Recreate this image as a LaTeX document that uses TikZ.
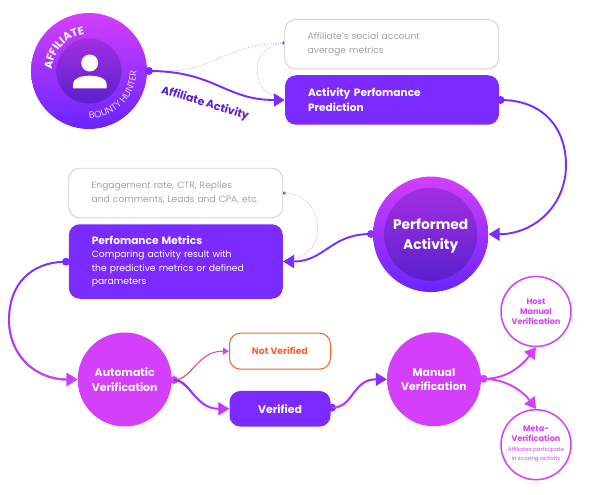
\documentclass[tikz,border=0pt]{standalone}
\usepackage{fontspec}
\setmainfont{Poppins}
\usetikzlibrary{arrows.meta,decorations.text,fadings,shapes.geometric}
\definecolor{vio}{HTML}{7B2BFF}
\definecolor{pnk}{HTML}{D33FFB}
\definecolor{org}{HTML}{F9622C}
\definecolor{gry}{HTML}{A3A3A3}
\definecolor{edg}{HTML}{D2D2D2}
\definecolor{dotc}{HTML}{CDAEFF}
\definecolor{lab}{HTML}{5C20D8}
\definecolor{intop}{HTML}{A22FE2}
\definecolor{inbot}{HTML}{5A20CC}
\tikzset{
  boxbase/.style={rectangle,rounded corners=11pt,inner ysep=0pt,align=left},
  greybox/.style={boxbase,draw=edg,line width=0.9pt,fill=white,text=gry,minimum width=214pt,text width=168pt,inner xsep=23pt,minimum height=49.5pt,font=\fontsize{9.15}{14}\selectfont},
  fullbox/.style={boxbase,fill=vio,text=white,minimum width=214pt,text width=168pt,inner xsep=23pt,font=\fontsize{10.6}{15}\selectfont},
  bigcirc/.style={circle,inner sep=0pt,minimum size=94pt,fill=pnk,text=white,align=center,font=\bfseries\fontsize{10.9}{14.4}\selectfont},
  ringcirc/.style={circle,inner sep=0pt,minimum size=70pt,draw=pnk,line width=1.5pt,fill=white,text=pnk,align=center,font=\bfseries\fontsize{8.1}{10}\selectfont},
  gradA/.style={circle,inner sep=0pt,top color=pnk,bottom color=vio!85!blue},
  gradB/.style={circle,inner sep=0pt,top color=intop,bottom color=inbot},
  dotn/.style={circle,inner sep=0pt,minimum size=8pt,fill=#1},
  smalldot/.style={circle,inner sep=0pt,minimum size=3.5pt,fill=vio},
  conn/.style={line width=1.9pt,-{Triangle[length=11pt,width=13pt]}},
  thinconn/.style={line width=1pt,-{Triangle[length=6pt,width=7pt]}},
  dotconn/.style={draw=dotc,line width=0.8pt,dash pattern=on 0.9pt off 1.4pt},
}
\begin{document}
\begin{tikzpicture}[x=1pt,y=1pt]
\useasboundingbox (0,0) rectangle (595,-495);
\fill[white] (0,0) rectangle (595,-495);

% dotted helpers
\node[smalldot] (ds) at (283.5,-43) {};
\node[smalldot] (de) at (284,-193) {};
\coordinate (dA) at (167,-71);
\coordinate (dB) at (274,-96);
\coordinate (dC) at (295,-259);
\draw[dotconn] (dA) .. controls (215,-71) and (225,-44) .. (ds.center);
\draw[dotconn] (ds.center) .. controls (265,-45) and (257,-58) .. (257,-70) .. controls (257,-82) and (263,-92) .. (dB);
\draw[dotconn] (de.center) .. controls (305,-193) and (317.7,-210) .. (317.7,-228) .. controls (317.7,-245) and (308,-255) .. (dC);

% nodes
\node[gradA,minimum size=116pt] (aff) at (89,-71) {};
\node[gradB,minimum size=65pt] (affin) at (89,-71) {};
\fill[white] (89.7,-63) circle (8.5);
\fill[white] (73,-88.3) -- (73,-84) .. controls (73,-79) and (80,-75.7) .. (89.8,-75.7) .. controls (99.6,-75.7) and (106.7,-79) .. (106.7,-84) -- (106.7,-88.3) -- cycle;
\path[decorate,decoration={text along path,text align=center,text={|\bfseries\fontsize{11}{11}\selectfont\color{white}|AFFILIATE}}]
  (89,-71) ++(195:37) arc (195:80:37);
\path[decorate,decoration={text along path,text align=center,text={|\fontsize{9.4}{9.4}\selectfont\color{white!78!vio}|BOUNTY HUNTER}}]
  (89,-71) ++(-98:47.5) arc (-98:8:47.5);

\node[greybox] (soc) at (391.7,-44.2) {Affiliate's social account\\average metrics};
\node[fullbox,minimum height=49.5pt] (pred) at (392,-100) {\bfseries Activity Perfomance\\\bfseries Prediction};
\node[greybox] (eng) at (175.7,-193) {Engagement rate, CTR, Replies\\and comments, Leads and CPA, etc.};
\node[fullbox,minimum height=74.5pt,font=\fontsize{9.2}{13.6}\selectfont] (met) at (175.8,-261.5) {{\bfseries\fontsize{10.6}{13.6}\selectfont Perfomance Metrics}\\Comparing activity result with\\the predictive metrics or defined\\parameters};

\node[gradA,minimum size=115.5pt] (perf) at (430.7,-234.3) {};
\node[gradB,minimum size=93pt] (perfin) at (430.7,-234.3) {};
\node[text=white,align=center,font=\bfseries\fontsize{13.8}{20}\selectfont] (perft) at (430.7,-236) {Performed\\Activity};

\node[bigcirc] (auto) at (124.7,-379.5) {Automatic\\Verification};
\node[bigcirc] (man) at (434,-379.3) {Manual\\Verification};
\node[rectangle,rounded corners=11pt,draw=org,line width=1pt,fill=white,text=org,minimum width=101pt,minimum height=36pt,font=\bfseries\fontsize{9.3}{10}\selectfont] (nv) at (280,-351.2) {Not Verified};
\node[rectangle,rounded corners=11pt,fill=vio,text=white,minimum width=101pt,minimum height=35.7pt,font=\bfseries\fontsize{10.9}{10}\selectfont] (ver) at (280,-408.8) {Verified};
\node[ringcirc] (host) at (536,-311.5) {Host\\Manual\\Verification};
\node[ringcirc] (meta) at (536,-444.7) {};
\node[text=pnk,align=center,font=\bfseries\fontsize{8.1}{10}\selectfont] (metat) at (536,-434) {Meta-\\Verification};
\node[text=pnk,align=center,font=\fontsize{5.6}{8.8}\selectfont] (metas) at (536,-454.7) {Affiliates participate\\in scoring activity};

% dots
\node[dotn=vio] (d1) at (149,-71) {};
\node[dotn=vio] (d2) at (500.5,-100) {};
\node[dotn=vio!70!pnk] (d3) at (371,-234) {};
\node[dotn=vio] (d4) at (66,-261.7) {};
\node[dotn=pnk] (d5) at (174,-380) {};
\node[dotn=vio] (d6) at (332,-407.7) {};
\node[dotn=pnk] (d7) at (483.5,-378.8) {};

% connectors
\draw[conn,vio] (d1.center) .. controls (215,-71) and (225,-100) .. (pred.west);
\draw[conn,vio] (d2.center) .. controls (545,-100) and (566,-130) .. (566,-165) .. controls (566,-205) and (535,-234) .. (perf.east);
\draw[conn,vio] (d3.center) .. controls (330,-234) and (325,-261.5) .. (met.east);
\draw[conn,vio] (d4.center) .. controls (30,-262) and (9,-285) .. (9,-320) .. controls (9,-355) and (35,-379.5) .. (auto.west);
\draw[conn,pnk,path fading=north] (d4.center) .. controls (30,-262) and (9,-285) .. (9,-320) .. controls (9,-355) and (35,-379.5) .. (auto.west);
\draw[thinconn,pnk] (d5.center) .. controls (192,-380) and (197,-351) .. (nv.west);
\draw[thinconn,org,path fading=east] (d5.center) .. controls (192,-380) and (197,-351) .. (nv.west);
\draw[conn,pnk] (d5.center) .. controls (190,-380) and (195,-408.8) .. (ver.west);
\draw[conn,vio,path fading=east] (d5.center) .. controls (190,-380) and (195,-408.8) .. (ver.west);
\draw[conn,vio] (d6.center) .. controls (354,-407.7) and (352,-379.3) .. (man.west);
\draw[conn,pnk,path fading=east] (d6.center) .. controls (354,-407.7) and (352,-379.3) .. (man.west);
\draw[conn,pnk] (d7.center) .. controls (505,-379) and (520,-368) .. (host.south);
\draw[conn,pnk] (d7.center) .. controls (505,-379) and (522,-390) .. (meta.north);

\node[rotate=-17,text=lab,font=\bfseries\fontsize{11}{11}\selectfont] (alab) at (205,-103.5) {Affiliate Activity};
\end{tikzpicture}
\end{document}
